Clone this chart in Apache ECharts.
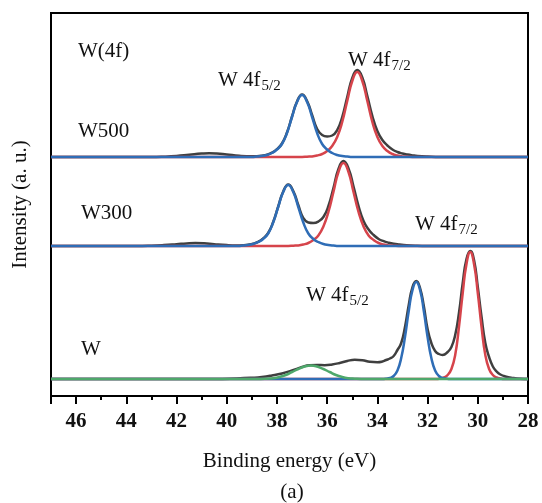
<!DOCTYPE html>
<html>
<head>
<meta charset="utf-8">
<script src="https://cdn.jsdelivr.net/npm/echarts@6/dist/echarts.min.js"></script>
<style>
  html, body { margin: 0; padding: 0; background: #fff; }
  #chart { width: 542px; height: 503px; }
</style>
</head>
<body>
<div id="chart"></div>
<script>
// binding energy (eV) / intensity (a.u.) pairs, each spectrum relative to its own baseline
const xTicks = [28, 30, 32, 34, 36, 38, 40, 42, 44, 46]
const offsets = { W: 17, W300: 150, W500: 239 }

// W500
const w500Envelope = [[47,0],[43,0],[42.5,0.3],[42.0,1],[41.5,2.2],[41.0,3.4],[40.7,3.8],[40.4,3.5],[40.0,2.5],[39.5,1.2],[39.0,0.7],[38.8,0.8],[38.6,1.3],[38.4,2.3],[38.2,4.3],[38.0,7.8],[37.8,13.5],[37.6,24.5],[37.4,40.5],[37.2,55.5],[37.0,62.5],[36.8,56],[36.6,42],[36.4,28],[36.2,22],[36.0,20.5],[35.8,21.5],[35.6,27],[35.4,40],[35.2,60],[35.0,79],[34.8,87],[34.6,79.5],[34.4,61],[34.2,41],[34.0,26],[33.8,17],[33.6,11.5],[33.4,7.5],[33.2,5],[33.0,3.5],[32.8,2.4],[32.6,1.6],[32.4,1],[32.0,0.4],[31.5,0],[28,0]]
const w500F52 = [[47,0],[39.0,0],[38.8,0.4],[38.6,1],[38.4,2],[38.2,4],[38.0,7.5],[37.8,13],[37.6,24],[37.4,40],[37.2,55],[37.0,62],[36.8,55],[36.6,40],[36.4,24],[36.2,13],[36.0,7.5],[35.8,4],[35.6,2],[35.4,1],[35.2,0.4],[35.0,0],[28,0]]
const w500F72 = [[47,0],[37.0,0],[36.8,0.3],[36.6,0.6],[36.4,1.5],[36.2,3],[36.0,6],[35.8,11],[35.6,20],[35.4,35],[35.2,56],[35.0,76],[34.8,85],[34.6,76],[34.4,56],[34.2,35],[34.0,20],[33.8,11],[33.6,6],[33.4,3],[33.2,1.5],[33.0,0.6],[32.8,0.3],[32.6,0],[28,0]]

// W300
const w300Envelope = [[47,0],[43.6,0],[43.0,0.3],[42.5,0.9],[42.0,1.8],[41.6,2.6],[41.25,3],[40.9,2.7],[40.5,1.8],[40.0,0.9],[39.6,0.6],[39.35,0.8],[39.15,1.3],[38.95,2.3],[38.75,4.2],[38.55,7.6],[38.35,13],[38.15,24],[37.95,39.5],[37.75,54.5],[37.55,61.5],[37.35,55],[37.15,41],[36.95,28],[36.75,23.5],[36.55,23],[36.35,24.5],[36.15,29],[35.95,40],[35.75,58],[35.55,77],[35.35,85],[35.15,77.5],[34.95,59.5],[34.75,40],[34.55,25],[34.35,16.5],[34.15,11],[33.95,7],[33.75,4.8],[33.55,3.3],[33.35,2.2],[33.15,1.5],[32.95,1],[32.5,0.3],[32.0,0],[28,0]]
const w300F52 = [[47,0],[39.55,0],[39.35,0.4],[39.15,1],[38.95,2],[38.75,4],[38.55,7],[38.35,12.5],[38.15,23.5],[37.95,39],[37.75,54],[37.55,61],[37.35,54],[37.15,39],[36.95,23.5],[36.75,12.5],[36.55,7],[36.35,4],[36.15,2],[35.95,1],[35.75,0.4],[35.55,0],[28,0]]
const w300F72 = [[47,0],[37.55,0],[37.35,0.3],[37.15,0.6],[36.95,1.5],[36.75,3],[36.55,6],[36.35,10.5],[36.15,19.5],[35.95,34],[35.75,54],[35.55,74],[35.35,83],[35.15,74],[34.95,54],[34.75,34],[34.55,19.5],[34.35,10.5],[34.15,6],[33.95,3],[33.75,1.5],[33.55,0.6],[33.35,0.3],[33.15,0],[28,0]]

// W
const wEnvelope = [[47,0],[40.5,0],[39.6,0.5],[39.0,1.2],[38.6,2],[38.2,3.5],[37.8,5.5],[37.4,8.5],[37.0,12],[36.7,13.8],[36.4,14],[36.1,13.8],[35.8,14.5],[35.5,16],[35.2,18],[34.9,19.2],[34.6,18.8],[34.3,17.2],[34.0,16.8],[33.8,17.5],[33.65,19],[33.5,20.5],[33.35,23],[33.2,29],[33.05,36],[32.9,52],[32.75,74],[32.6,92],[32.45,98],[32.3,91],[32.15,73],[32.0,50],[31.85,36],[31.7,28],[31.55,25],[31.4,24],[31.2,27],[31.05,32],[30.9,44],[30.75,66],[30.6,96],[30.45,120],[30.3,128],[30.15,119],[30.0,92],[29.85,62],[29.7,36],[29.55,22],[29.4,12.5],[29.25,7.5],[29.1,4.5],[28.9,2.5],[28.6,1],[28.3,0.2],[28,0]]
const wF52 = [[47,0],[33.8,0],[33.65,0.3],[33.5,1],[33.35,3],[33.2,8.5],[33.05,21],[32.9,42],[32.75,68],[32.6,89],[32.45,97],[32.3,89],[32.15,68],[32.0,42],[31.85,21],[31.7,8.5],[31.55,3],[31.4,1],[31.25,0.3],[31.1,0],[28,0]]
const wF72 = [[47,0],[31.65,0],[31.5,0.5],[31.35,1.5],[31.2,4],[31.05,10],[30.9,24],[30.75,52],[30.6,86],[30.45,115],[30.3,127],[30.15,115],[30.0,86],[29.85,52],[29.7,24],[29.55,10],[29.4,4],[29.25,1.5],[29.1,0.5],[28.95,0],[28,0]]
const wOxide = [[47,0],[38.65,0],[38.4,0.3],[38.15,0.8],[37.9,2],[37.65,4],[37.4,7],[37.15,10],[36.9,12.5],[36.65,13.5],[36.4,12.5],[36.15,10],[35.9,7],[35.65,4],[35.4,2],[35.15,0.8],[34.9,0.3],[34.65,0],[28,0]]

const serif = "'Liberation Serif', 'Times New Roman', serif"
const GRAY = '#3f3f3f', RED = '#d6444b', BLUE = '#2f6db6', GREEN = '#4ea86b'

function line(arr, offset, color) {
  return {
    type: 'line',
    data: arr.map(p => [p[0], p[1] + offset]),
    smooth: 0.5,
    showSymbol: false,
    silent: true,
    lineStyle: { color: color, width: 2.5 }
  }
}

function label(x, y, main, sub) {
  return {
    type: 'text',
    x: x,
    y: y,
    style: {
      text: sub ? '{m|' + main + '}{s|' + sub + '}' : '{m|' + main + '}',
      verticalAlign: 'middle',
      rich: {
        m: { fontFamily: serif, fontSize: 21, fill: '#111' },
        s: { fontFamily: serif, fontSize: 15, fill: '#111', padding: [12, 0, 0, 1] }
      }
    }
  }
}

let chart = echarts.init(document.getElementById('chart'))
chart.setOption({
  animation: false,
  backgroundColor: '#fff',
  grid: { left: 51, right: 14, top: 13, bottom: 107, show: true, borderColor: '#000', borderWidth: 2 },
  xAxis: {
    type: 'value',
    inverse: true,
    min: 28,
    max: 47,
    interval: 2,
    name: 'Binding energy (eV)',
    nameLocation: 'middle',
    nameGap: 55,
    nameTextStyle: { fontFamily: serif, fontSize: 21, color: '#111' },
    axisLine: { lineStyle: { color: '#000', width: 2 } },
    axisTick: { inside: false, length: 8, lineStyle: { color: '#000', width: 2 } },
    minorTick: { show: true, splitNumber: 2, length: 4, lineStyle: { color: '#000', width: 2 } },
    axisLabel: {
      margin: 15,
      fontFamily: serif, fontSize: 21, fontWeight: 'bold', color: '#111',
      formatter: v => xTicks.includes(v) ? String(v) : ''
    },
    splitLine: { show: false }
  },
  yAxis: {
    type: 'value',
    min: 0,
    max: 383,
    name: 'Intensity (a. u.)',
    nameLocation: 'middle',
    nameGap: 20,
    nameRotate: 90,
    nameTextStyle: { fontFamily: serif, fontSize: 21, color: '#111' },
    axisLine: { lineStyle: { color: '#000', width: 2 } },
    axisTick: { show: false },
    axisLabel: { show: false },
    splitLine: { show: false }
  },
  series: [
    line(w500Envelope, offsets.W500, GRAY),
    line(w500F72, offsets.W500, RED),
    line(w500F52, offsets.W500, BLUE),
    line(w300Envelope, offsets.W300, GRAY),
    line(w300F72, offsets.W300, RED),
    line(w300F52, offsets.W300, BLUE),
    line(wEnvelope, offsets.W, GRAY),
    line(wF72, offsets.W, RED),
    line(wF52, offsets.W, BLUE),
    line(wOxide, offsets.W, GREEN)
  ],
  graphic: [
    label(78, 51, 'W(4f)'),
    label(218, 80, 'W 4f', '5/2'),
    label(348, 60, 'W 4f', '7/2'),
    label(78, 131, 'W500'),
    label(81, 213, 'W300'),
    label(415, 224, 'W 4f', '7/2'),
    label(306, 295, 'W 4f', '5/2'),
    label(81, 349, 'W'),
    {
      type: 'text', x: 292, y: 492,
      style: { text: '(a)', font: '21px ' + serif, fill: '#111', align: 'center', verticalAlign: 'middle' }
    }
  ]
})
</script>
</body>
</html>
